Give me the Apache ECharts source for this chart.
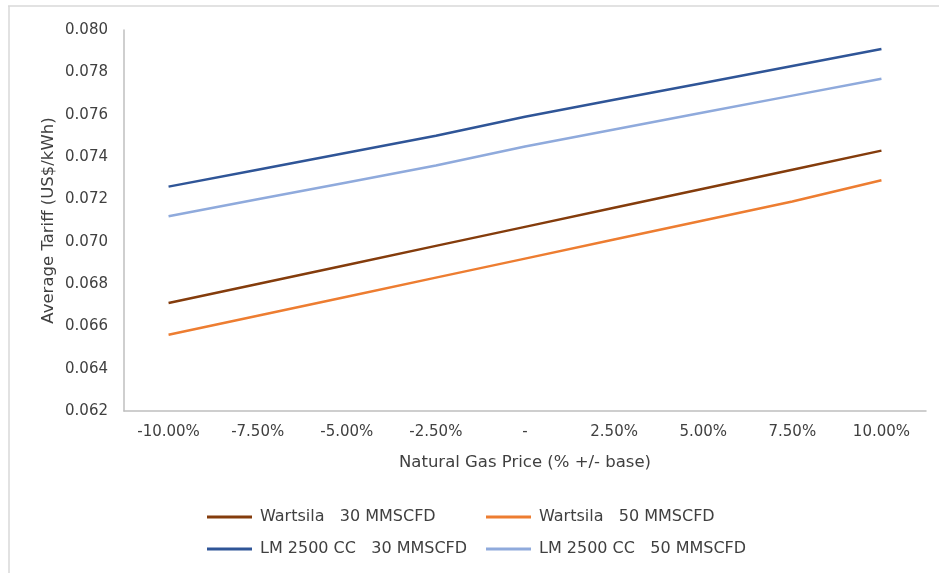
<!DOCTYPE html>
<html>
<head>
<meta charset="utf-8">
<script src="https://cdn.jsdelivr.net/npm/echarts@6/dist/echarts.min.js"></script>
<style>
html,body{margin:0;padding:0;background:#fff;}
#c{width:939px;height:573px;}
</style>
</head>
<body>
<div id="c"></div>
<script>
const categories = ['-10.00%','-7.50%','-5.00%','-2.50%','-','2.50%','5.00%','7.50%','10.00%'];
const wartsila30 = [0.0671,0.0680,0.0689,0.0698,0.0707,0.0716,0.0725,0.0734,0.0743];
const wartsila50 = [0.0656,0.0665,0.0674,0.0683,0.0692,0.0701,0.0710,0.0719,0.0729];
const lm30 = [0.0726,0.0734,0.0742,0.0750,0.0759,0.0767,0.0775,0.0783,0.0791];
const lm50 = [0.0712,0.0720,0.0728,0.0736,0.0745,0.0753,0.0761,0.0769,0.0777];
const names = ['Wartsila   30 MMSCFD','Wartsila   50 MMSCFD','LM 2500 CC   30 MMSCFD','LM 2500 CC   50 MMSCFD'];
const colors = ['#843C0C','#ED7D31','#2F5597','#8FAADC'];
const seriesData = [wartsila30, wartsila50, lm30, lm50];

const FONT = '"DejaVu Sans", sans-serif';
const chart = echarts.init(document.getElementById('c'), null, {renderer:'canvas'});
const legendPos = [[207,509],[486,509],[207,541],[486,541]];
chart.setOption({
  animation:false,
  backgroundColor:'#fff',
  textStyle:{fontFamily:FONT},
  graphic:[
    {type:'line', shape:{x1:8,y1:6,x2:939,y2:6}, style:{stroke:'#D9D9D9',lineWidth:1.5}},
    {type:'line', shape:{x1:9,y1:6,x2:9,y2:573}, style:{stroke:'#D9D9D9',lineWidth:1.5}}
  ],
  grid:{left:124,right:13,top:30,bottom:162},
  legend: names.map((n,i)=>({
    data:[n], left:legendPos[i][0], top:legendPos[i][1], padding:0,
    icon:'rect', itemWidth:45, itemHeight:3, itemGap:10,
    textStyle:{fontSize:16,color:'#404040',fontFamily:FONT,padding:[0,0,0,3]},
    selectedMode:false
  })),
  xAxis:{
    type:'category', data:categories, boundaryGap:true,
    name:'Natural Gas Price (% +/- base)', nameLocation:'middle', nameGap:43,
    nameTextStyle:{fontSize:16.5,color:'#404040'},
    axisLine:{lineStyle:{color:'#BFBFBF',width:1.5}},
    axisTick:{show:false},
    axisLabel:{fontSize:15,color:'#404040',margin:14},
    splitLine:{show:false}
  },
  yAxis:{
    type:'value', min:0.062, max:0.080, interval:0.002,
    name:'Average Tariff (US$/kWh)', nameLocation:'middle', nameGap:67, nameRotate:90,
    nameMoveOverlap:false,
    nameTextStyle:{fontSize:16.5,color:'#404040'},
    axisLine:{show:true,lineStyle:{color:'#BFBFBF',width:1.5}},
    axisTick:{show:false},
    axisLabel:{fontSize:15,color:'#404040',margin:16,formatter:v=>v.toFixed(3)},
    splitLine:{show:false}
  },
  series: seriesData.map((d,i)=>({
    name:names[i], type:'line', data:d, symbol:'none',
    lineStyle:{color:colors[i],width:2.5}, itemStyle:{color:colors[i]}
  }))
});
</script>
</body>
</html>
